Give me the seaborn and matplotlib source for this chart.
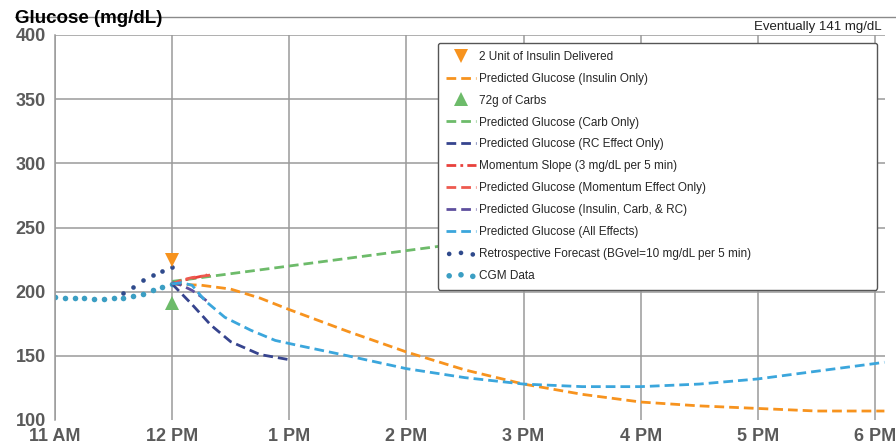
import numpy as np
import pandas as pd
import seaborn as sns
import matplotlib.pyplot as plt
from matplotlib.lines import Line2D

# time in hours (11 = 11 AM)
hour_ticks = [11, 12, 13, 14, 15, 16, 17, 18]
hour_labels = ['11 AM', '12 PM', '1 PM', '2 PM', '3 PM', '4 PM', '5 PM', '6 PM']
glucose_ticks = [100, 150, 200, 250, 300, 350, 400]

# CGM readings every 5 min, 11:00 -> 12:00
cgm_t = [11 + m / 60 for m in range(0, 65, 5)]
cgm_bg = [196, 195, 195, 195, 194, 194, 195, 195, 197, 198, 201, 204, 206]

# retrospective forecast, 11:35 -> 12:00
retro_t = [11 + m / 60 for m in [35, 40, 45, 50, 55, 60]]
retro_bg = [199, 204, 209, 213, 216, 219]

insulin_t = [12.0]
insulin_bg = [225]
carb_t = [12.0]
carb_bg = [191]

insulin_only_t = [12.0, 12.25, 12.5, 12.75, 13.0, 13.5, 14.0, 14.5, 15.0, 15.5, 16.0, 16.5, 17.0, 17.5, 18.0, 18.08]
insulin_only_bg = [206, 205, 202, 195, 186, 169, 153, 139, 128, 120, 114, 111, 109, 107, 107, 107]

carb_only_t = [12.0, 12.5, 13.0, 13.5, 14.0, 14.5]
carb_only_bg = [208, 214, 220, 226, 232, 238]

rc_only_t = [12.0, 12.17, 12.33, 12.5, 12.75, 13.0]
rc_only_bg = [206, 190, 174, 161, 151, 147]

momentum_slope_t = [12.0, 12.1, 12.2, 12.3]
momentum_slope_bg = [206, 209, 211, 213]

momentum_only_t = [12.0, 12.08, 12.17, 12.25, 12.33]
momentum_only_bg = [206, 209, 211, 212, 213]

icr_t = [12.0, 12.08, 12.17, 12.25, 12.32]
icr_bg = [207, 205, 201, 196, 191]

all_t = [12.0, 12.08, 12.17, 12.28, 12.45, 12.67, 12.88, 13.08, 13.5, 14.0, 14.5, 15.0, 15.5, 16.0, 16.5, 17.0, 17.5, 18.0, 18.08]
all_bg = [206, 207, 205, 193, 180, 170, 162, 158, 150, 140, 133, 128, 126, 126, 128, 132, 138, 144, 145]

sns.set_style('white')
plt.rcParams['font.family'] = ['Liberation Sans', 'DejaVu Sans']

fig = plt.figure(figsize=(8.96, 4.47), dpi=100)
ax = fig.add_axes([55 / 896, 1 - 420 / 447, 830 / 896, 385 / 447])

dash = (0, (3.5, 1.8))
sns.lineplot(x=insulin_t, y=insulin_bg, ax=ax, color='#f7931e', marker='v', markersize=10,
             linestyle='', markeredgewidth=0, label='2 Unit of Insulin Delivered')
sns.lineplot(x=insulin_only_t, y=insulin_only_bg, ax=ax, color='#f7931e', lw=2, linestyle=dash,
             label='Predicted Glucose (Insulin Only)')
sns.lineplot(x=carb_t, y=carb_bg, ax=ax, color='#6dbb6a', marker='^', markersize=10,
             linestyle='', markeredgewidth=0, label='72g of Carbs')
sns.lineplot(x=carb_only_t, y=carb_only_bg, ax=ax, color='#6dbb6a', lw=2, linestyle=dash,
             label='Predicted Glucose (Carb Only)')
sns.lineplot(x=rc_only_t, y=rc_only_bg, ax=ax, color='#36448e', lw=2, linestyle=dash,
             label='Predicted Glucose (RC Effect Only)')
sns.lineplot(x=momentum_slope_t, y=momentum_slope_bg, ax=ax, color='#e8413c', lw=2,
             linestyle=(0, (3.5, 1.5, 1, 1.5)), label='Momentum Slope (3 mg/dL per 5 min)')
sns.lineplot(x=momentum_only_t, y=momentum_only_bg, ax=ax, color='#ee5a4f', lw=2, linestyle=dash,
             label='Predicted Glucose (Momentum Effect Only)')
sns.lineplot(x=icr_t, y=icr_bg, ax=ax, color='#5e4f9e', lw=2, linestyle=dash,
             label='Predicted Glucose (Insulin, Carb, & RC)')
sns.lineplot(x=all_t, y=all_bg, ax=ax, color='#3ba6dc', lw=2, linestyle=dash,
             label='Predicted Glucose (All Effects)')
sns.scatterplot(x=retro_t, y=retro_bg, ax=ax, color='#2f4a8c', s=11, linewidth=0,
                label='Retrospective Forecast (BGvel=10 mg/dL per 5 min)')
sns.scatterplot(x=cgm_t, y=cgm_bg, ax=ax, color='#3b9ec3', s=16, linewidth=0, label='CGM Data')

ax.set_xlim(11, 18.085)
ax.set_ylim(100, 400)
ax.set_xticks(hour_ticks)
ax.set_xticklabels(hour_labels)
ax.set_yticks(glucose_ticks)
ax.grid(True, color='#9a9a9a', lw=1.1)
ax.yaxis.get_gridlines()[0].set_visible(False)
for s in ['top', 'right', 'bottom']:
    ax.spines[s].set_visible(False)
ax.spines['left'].set_color('#9a9a9a')
ax.spines['left'].set_linewidth(1.1)
ax.tick_params(axis='y', length=3.5, width=1, color='#9a9a9a', pad=3, labelsize=13, labelcolor='#5a5a5a')
ax.tick_params(axis='x', length=0, pad=5.5, labelsize=13, labelcolor='#5a5a5a')
for lab in ax.get_xticklabels() + ax.get_yticklabels():
    lab.set_fontweight('bold')
ax.set_xlabel('')
ax.set_ylabel('')

leg = ax.legend(loc='upper left', bbox_to_anchor=(0.4614, 0.345, 0.529, 0.634), mode='expand',
                borderaxespad=0, fontsize=8.5, labelspacing=0.84, handlelength=2.6,
                handletextpad=0.25, scatterpoints=3, numpoints=1, frameon=True,
                fancybox=True, edgecolor='#555555', framealpha=1, borderpad=0.65)
leg.get_frame().set_linewidth(1.0)

fig.add_artist(Line2D([15 / 896, 1], [1 - 17 / 447, 1 - 17 / 447], color='#8a8a8a', lw=1))
fig.text(15 / 896, 1 - 23 / 447, 'Glucose (mg/dL)', fontsize=13.5, fontweight='bold',
         color='black', va='baseline')
fig.text(882 / 896, 1 - 30 / 447, 'Eventually 141 mg/dL', fontsize=9.5, color='#222222',
         ha='right', va='baseline')

fig.savefig('out.png', dpi=100)
